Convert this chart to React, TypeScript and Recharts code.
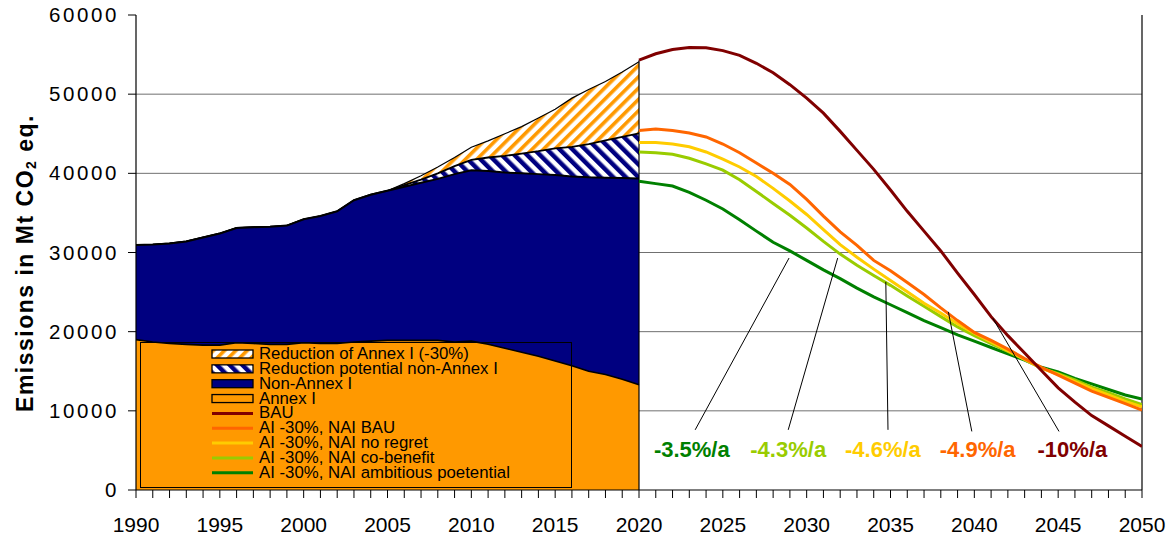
import React from 'react'
import {
  ComposedChart, Area, Line, XAxis, YAxis, CartesianGrid,
  ReferenceLine, ReferenceDot, Legend,
} from 'recharts'

const FONT = '"Liberation Sans", Arial, Helvetica, sans-serif'

// historic period, Mt CO2 eq.
const histYears = [
  1990, 1991, 1992, 1993, 1994, 1995, 1996, 1997, 1998, 1999, 2000,
  2001, 2002, 2003, 2004, 2005, 2006, 2007, 2008, 2009, 2010,
  2011, 2012, 2013, 2014, 2015, 2016, 2017, 2018, 2019, 2020,
]
const annexI = [
  19000, 18700, 18500, 18400, 18300, 18300, 18600, 18500, 18400, 18400, 18600,
  18500, 18500, 18700, 18800, 18900, 18900, 18900, 18900, 18700, 18800,
  18400, 17900, 17400, 16900, 16300, 15700, 15000, 14600, 14000, 13300,
]
const nonAnnexI = [
  11950, 12300, 12650, 13000, 13600, 14100, 14500, 14700, 14850, 15000, 15600,
  16100, 16700, 17900, 18500, 18900, 19400, 19900, 20400, 21200, 21600,
  21900, 22200, 22600, 23000, 23500, 23900, 24500, 24850, 25400, 26050,
]
const potentialNAI = [
  0, 0, 0, 0, 0, 0, 0, 0, 0, 0, 0,
  0, 0, 0, 0, 0, 200, 400, 700, 1000, 1300,
  1700, 2100, 2500, 2900, 3350, 3750, 4200, 4700, 5200, 5700,
]
const reductionAI = [
  0, 0, 0, 0, 0, 0, 0, 0, 0, 0, 0,
  0, 0, 0, 0, 0, 200, 500, 800, 1100, 1600,
  2100, 2800, 3400, 4200, 4950, 6150, 6900, 7450, 8200, 9050,
]

// pathways 2020-2050
const pathYears = [
  2020, 2021, 2022, 2023, 2024, 2025, 2026, 2027, 2028, 2029, 2030,
  2031, 2032, 2033, 2034, 2035, 2036, 2037, 2038, 2039, 2040,
  2041, 2042, 2043, 2044, 2045, 2046, 2047, 2048, 2049, 2050,
]
const bau = [
  54300, 55100, 55650, 55900, 55850, 55500, 54900, 53900, 52700, 51200, 49500,
  47600, 45300, 42900, 40500, 37900, 35200, 32700, 30200, 27400, 24700,
  21900, 19500, 17300, 15100, 12900, 11100, 9400, 8100, 6800, 5500,
]
const naiBau = [
  45400, 45600, 45400, 45100, 44600, 43700, 42600, 41300, 40000, 38600, 36700,
  34600, 32600, 30900, 29000, 27700, 26200, 24700, 23000, 21400, 19900,
  18900, 17800, 16600, 15500, 14500, 13500, 12500, 11700, 10900, 10100,
]
const naiNoRegret = [
  43900, 43900, 43700, 43350, 42700, 41800, 40800, 39600, 38100, 36500, 34800,
  32900, 31000, 29400, 27900, 26450, 25050, 23600, 22350, 21000, 19800,
  18700, 17600, 16500, 15400, 14600, 13700, 12800, 12000, 11200, 10500,
]
const naiCoBenefit = [
  42700, 42600, 42400, 41900, 41200, 40400, 39200, 37700, 36200, 34700, 33100,
  31400, 29800, 28400, 27100, 25850, 24500, 23200, 21900, 20600, 19500,
  18500, 17500, 16500, 15400, 14700, 13900, 13000, 12300, 11500, 10800,
]
const naiAmbitious = [
  39000, 38700, 38400, 37600, 36600, 35500, 34150, 32700, 31300, 30200, 29000,
  27800, 26700, 25500, 24400, 23400, 22400, 21400, 20500, 19600, 18800,
  18000, 17200, 16400, 15500, 14900, 14100, 13400, 12700, 12000, 11500,
]

const yTicks = [0, 10000, 20000, 30000, 40000, 50000, 60000]

// reduction rates written under the curves, with leader lines
const rateLabels = ['-3.5%/a', '-4.3%/a', '-4.6%/a', '-4.9%/a', '-10%/a']
const rateColors = ['#008000', '#99CC00', '#FFCC00', '#FF6600', '#800000']
const rateAt = [[2023.15, 5200], [2028.9, 5200], [2034.55, 5200], [2040.2, 5200], [2045.85, 5200]]
const leaderFoot = [[2023.35, 7600], [2028.9, 7600], [2034.85, 7600], [2039.85, 7400], [2045.05, 7400]]
const leaderHead = [[2028.95, 29300], [2031.85, 29300], [2034.72, 26300], [2038.45, 22500], [2041.1, 21700]]

const ORANGE = '#FF9900'
const NAVY = '#000080'

const pathSeries = [
  { key: 'ambitious', color: '#008000', values: naiAmbitious },
  { key: 'coBenefit', color: '#99CC00', values: naiCoBenefit },
  { key: 'noRegret', color: '#FFCC00', values: naiNoRegret },
  { key: 'naiBau', color: '#FF6600', values: naiBau },
  { key: 'bau', color: '#800000', values: bau },
]

const legendLabels = [
  'Reduction of Annex I (-30%)',
  'Reduction potential non-Annex I',
  'Non-Annex I',
  'Annex I',
  'BAU',
  'AI -30%, NAI BAU',
  'AI -30%, NAI no regret',
  'AI -30%, NAI co-benefit',
  'AI -30%, NAI ambitious poetential',
]
const legendSwatches = [
  { kind: 'box', fill: 'url(#legHatchAI)' },
  { kind: 'box', fill: 'url(#legHatchNAI)' },
  { kind: 'box', fill: NAVY },
  { kind: 'box', fill: ORANGE },
  { kind: 'line', fill: '#800000' },
  { kind: 'line', fill: '#FF6600' },
  { kind: 'line', fill: '#FFCC00' },
  { kind: 'line', fill: '#99CC00' },
  { kind: 'line', fill: '#008000' },
]

const years = [...histYears, ...pathYears.slice(1)]

const rows = years.map(year => {
  const row: Record<string, number | null> = { year }
  const i = histYears.indexOf(year)
  if (i >= 0) {
    const total = annexI[i] + nonAnnexI[i]
    row.annex = annexI[i]
    row.total = total
    row.potTop = total + potentialNAI[i]
    row.bauTop = total + potentialNAI[i] + reductionAI[i]
  } else {
    row.annex = row.total = row.potTop = row.bauTop = null
  }
  const j = pathYears.indexOf(year)
  pathSeries.forEach(s => { row[s.key] = j >= 0 ? s.values[j] : null })
  return row
})

function Hatches({ prefix }: { prefix: string }) {
  return (
    <defs>
      <pattern id={`${prefix}HatchAI`} width={8} height={8} patternUnits="userSpaceOnUse" patternTransform="rotate(45)">
        <rect width={8} height={8} fill="#fff" />
        <rect width={3.6} height={8} fill={ORANGE} />
      </pattern>
      <pattern id={`${prefix}HatchNAI`} width={9} height={9} patternUnits="userSpaceOnUse" patternTransform="rotate(-45)">
        <rect width={9} height={9} fill="#fff" />
        <rect width={4.5} height={9} fill={NAVY} />
      </pattern>
    </defs>
  )
}

function YearTick({ x, y, payload }: any) {
  if (payload.value % 5 !== 0) return <g />
  return (
    <text x={x} y={y + 32} textAnchor="middle" fontFamily={FONT} fontSize={21} fill="#000">
      {payload.value}
    </text>
  )
}

function ValueTick({ x, y, payload }: any) {
  return (
    <text x={x - 7} y={y + 7} textAnchor="end" fontFamily={FONT} fontSize={20.5}
      letterSpacing={2.6} fill="#000">
      {payload.value}
    </text>
  )
}

function YTitle() {
  return (
    <text transform="translate(33, 263) rotate(-90)" textAnchor="middle" fontFamily={FONT}
      fontSize={23} fontWeight="bold" letterSpacing={1.5} fill="#000">
      Emissions in Mt CO<tspan fontSize={14} dy={3}>2</tspan><tspan dy={-3}> eq.</tspan>
    </text>
  )
}

// legend drawn as its own small svg, transparent so the areas show through
function LegendBox() {
  const top = 12
  const step = 14.85
  return (
    <svg width={433} height={147} style={{ display: 'block', overflow: 'visible' }}>
      <Hatches prefix="leg" />
      <rect x={0.5} y={0.5} width={431} height={145} fill="none" stroke="#000" strokeWidth={1} />
      <g fontFamily={FONT} fontSize={16.8}>
        {legendLabels.map((label, i) => {
          const cy = top + i * step
          const sw = legendSwatches[i]
          return (
            <g key={label}>
              {sw.kind === 'box'
                ? <rect x={72} y={cy - 4} width={41} height={8} fill={sw.fill} stroke="#000" strokeWidth={1.3} />
                : <line x1={72} x2={113} y1={cy} y2={cy} stroke={sw.fill} strokeWidth={3} />}
              <text x={119} y={cy + 5} fill="#000">{label}</text>
            </g>
          )
        })}
      </g>
    </svg>
  )
}

export default function App() {
  return (
    <div style={{ position: 'absolute', left: 0, top: 0 }}>
      <ComposedChart width={1168} height={539} data={rows}
        margin={{ top: 15, right: 26, bottom: 0, left: 0 }}>
        <Hatches prefix="area" />
        <CartesianGrid horizontal vertical={false} stroke="#707070" strokeWidth={1}
          horizontalValues={[10000, 20000, 30000, 40000, 50000]} />
        <XAxis dataKey="year" type="number" domain={[1990, 2050]} ticks={years} interval={0}
          height={49} tickSize={8} tick={<YearTick />} axisLine={{ stroke: '#000', strokeWidth: 1.2 }}
          tickLine={{ stroke: '#000' }} allowDataOverflow />
        <YAxis type="number" domain={[0, 60000]} ticks={yTicks} interval={0} width={136}
          tickSize={8} tick={<ValueTick />} axisLine={{ stroke: '#000', strokeWidth: 1.2 }}
          tickLine={{ stroke: '#000' }} label={<YTitle />} />

        <Area dataKey="bauTop" type="linear" fill="url(#areaHatchAI)" fillOpacity={1}
          stroke="#000" strokeWidth={1.2} isAnimationActive={false} />
        <Area dataKey="potTop" type="linear" fill="url(#areaHatchNAI)" fillOpacity={1}
          stroke="#000" strokeWidth={1.8} isAnimationActive={false} />
        <Area dataKey="total" type="linear" fill={NAVY} fillOpacity={1}
          stroke="#000" strokeWidth={2} isAnimationActive={false} />
        <Area dataKey="annex" type="linear" fill={ORANGE} fillOpacity={1}
          stroke="#000" strokeWidth={1.6} isAnimationActive={false} />

        <ReferenceLine segment={[{ x: 2020, y: 0 }, { x: 2020, y: bau[0] }]} stroke="#000" strokeWidth={1.2} />
        <ReferenceLine x={2050} stroke="#000" strokeWidth={1.2} />

        {pathSeries.map(s => (
          <Line key={s.key} dataKey={s.key} type="linear" stroke={s.color} strokeWidth={3}
            dot={false} activeDot={false} isAnimationActive={false} />
        ))}

        {rateLabels.map((label, i) => (
          <ReferenceLine key={`lead-${label}`} ifOverflow="visible" stroke="#000" strokeWidth={1}
            segment={[
              { x: leaderFoot[i][0], y: leaderFoot[i][1] },
              { x: leaderHead[i][0], y: leaderHead[i][1] },
            ]} />
        ))}
        {rateLabels.map((label, i) => (
          <ReferenceDot key={`rate-${label}`} x={rateAt[i][0]} y={rateAt[i][1]} r={1}
            ifOverflow="visible"
            shape={(p: any) => (
              <text x={p.cx} y={p.cy + 8} textAnchor="middle" fontFamily={FONT} fontSize={22}
                fontWeight="bold" fill={rateColors[i]}>
                {label}
              </text>
            )} />
        ))}

        <Legend layout="vertical" align="center" verticalAlign="middle"
          wrapperStyle={{ left: 140, top: 342, width: 433, height: 147 }}
          content={() => <LegendBox />} />
      </ComposedChart>
    </div>
  )
}
